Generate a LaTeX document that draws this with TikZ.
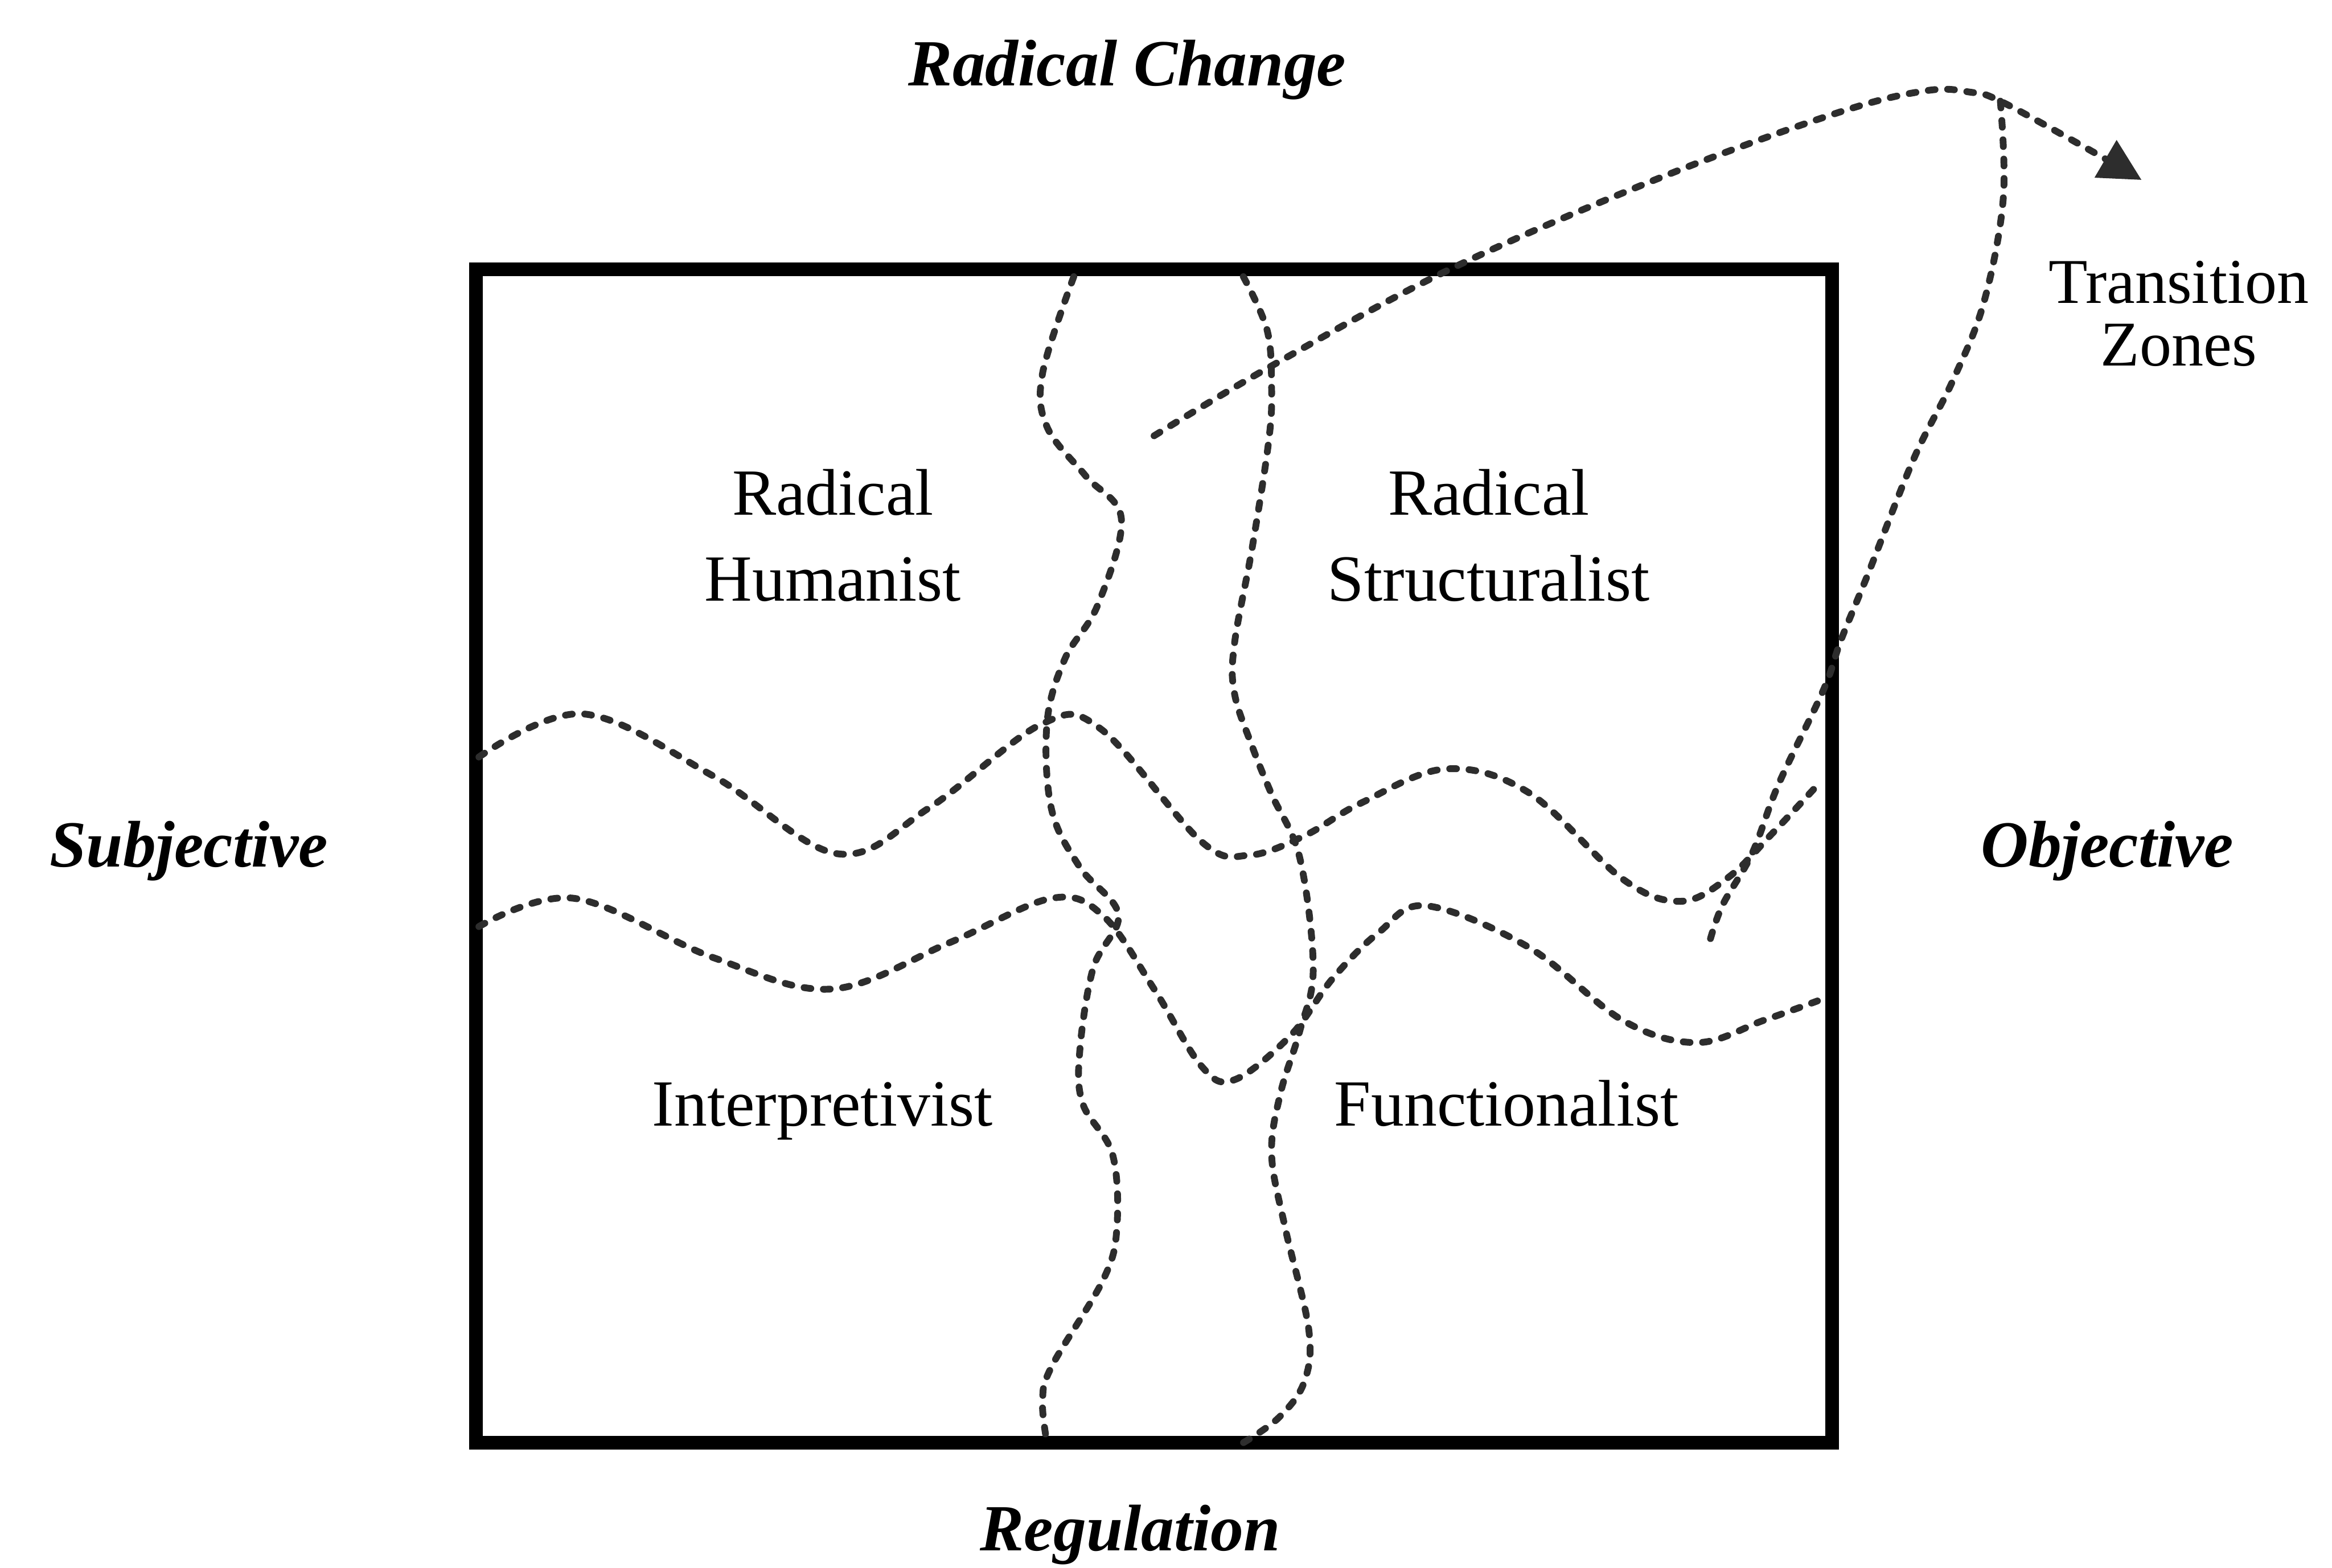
\documentclass[tikz,border=0pt]{standalone}
\usepackage{fontspec}
\setmainfont{Liberation Serif}
\usetikzlibrary{arrows.meta}
\definecolor{zonecolor}{RGB}{45,45,45}

\begin{document}
\begin{tikzpicture}[x=0.01cm, y=-0.01cm, >={Triangle[length=8pt,width=8pt]},
    zoneline/.style={line width=1.3pt, dash pattern=on 1.3pt off 2.4pt, line cap=round, zonecolor},
    axislabel/.style={font=\fontsize{12.6}{15}\selectfont\bfseries\itshape},
    paradigm/.style={font=\fontsize{12.6}{16.4}\selectfont, align=center}]

    \useasboundingbox (0,0) rectangle (1568,1054);

    % Outer frame
    \draw[line width=2.6pt] (320,181) rectangle (1232,970);

    % Axis labels
    \node[axislabel] (change) at (758,47) {Radical Change};
    \node[axislabel] (regulation) at (760,1032) {Regulation};
    \node[axislabel] (subjective) at (127,572) {Subjective};
    \node[axislabel] (objective) at (1417,572) {Objective};

    % Paradigm labels
    \node[paradigm] (humanist) at (560,360) {Radical\\Humanist};
    \node[paradigm] (structuralist) at (1001,360) {Radical\\Structuralist};
    \node[paradigm] (interpretivist) at (553,747) {Interpretivist};
    \node[paradigm] (functionalist) at (1013,742) {Functionalist};
    \node[paradigm, font=\fontsize{12.2}{12}\selectfont] (transition) at (1465,211) {Transition\\Zones};

    % Horizontal transition zone
    \draw[zoneline] plot[smooth, tension=0.6] coordinates {(322,509) (392,480) (480,522) (563,574)
        (625,543) (700,487) (740,490) (808,566) (840,575) (877,562) (915,540) (972,517)
        (1028,533) (1091,591) (1130,606) (1162,590) (1192,560) (1221,529)};
    \draw[zoneline] plot[smooth, tension=0.6] coordinates {(322,623) (386,604) (480,644) (559,665)
        (638,634) (707,604) (742,616) (776,665) (808,717) (830,726) (868,696) (896,658)
        (927,627) (959,609) (1028,637) (1091,686) (1141,701) (1186,686) (1222,673)};

    % Vertical transition zone
    \draw[zoneline] plot[smooth, tension=0.6] coordinates {(722,186) (701,251) (704,287) (730,320)
        (754,349) (738,407) (716,443) (704,486) (707,544) (726,583) (752,615) (735,651)
        (726,707) (728,742) (748,776) (751,825) (742,860) (707,919) (701,943) (704,970)};
    \draw[zoneline] plot[smooth, tension=0.6] coordinates {(836,186) (852,222) (855,261) (853,297)
        (842,368) (830,433) (830,466) (842,502) (855,534) (874,577) (883,651) (874,693)
        (861,735) (855,776) (864,825) (880,894) (877,929) (860,953) (836,970)};

    % Pointers to the zones
    \coordinate (vzone) at (776,293);
    \coordinate (hzone) at (1149,635);
    \coordinate (fork) at (1345,68);
    \coordinate (tip) at (1440,121);
    \draw[zoneline, ->] plot[smooth, tension=0.6] coordinates {(vzone) (855,246) (975,181)
        (1115,120) (1235,76) (1295,61) (1325,62) (fork) (1400,98) (tip)};
    \draw[zoneline] plot[smooth, tension=0.6] coordinates {(fork) (1347,133) (1334,203)
        (1313,256) (1287,308) (1256,386) (1238,430) (1226,464) (1196,527) (1178,574)
        (1158,609) (hzone)};
\end{tikzpicture}
\end{document}
